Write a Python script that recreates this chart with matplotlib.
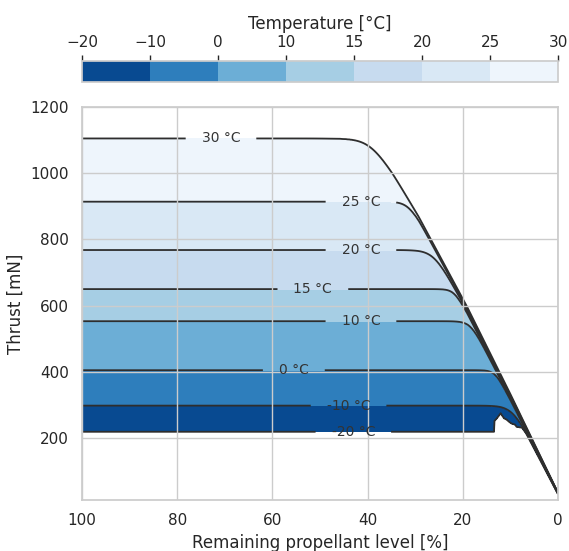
import numpy as np
import matplotlib
matplotlib.use("Agg")
from matplotlib import pyplot as plt
import seaborn as sns

sns.set_theme(style="whitegrid")

# temperature levels and the plateau thrust of each iso-temperature line
temps = [-20, -10, 0, 10, 15, 20, 25, 30]
plateau_thrust = [219, 298, 405, 553, 650, 768, 914, 1105]
bend_width = [10, 35, 20, 25, 20, 35, 25, 40]
diag_scale = [0.92, 0.935, 0.95, 0.96, 0.97, 0.98, 0.99, 1.0]

# outer limit line (thrust at low propellant level)
limit_level = [0, 10, 19.1, 29.3, 34.7, 40, 100]
limit_thrust = [34, 332, 596, 869, 1000, 1120, 2500]

# the -20 °C line has a ragged end
m20_level = [6.2, 6.9, 7.6, 8.7, 9.05, 9.75, 10.25, 10.8, 11.35, 12.05, 12.9, 13.35, 13.45, 100]
m20_thrust = [204, 219, 232, 234, 241, 244, 249, 256, 260, 275, 259, 252, 219, 219]

label_pos = [(70.8, 1105), (41.4, 914), (41.4, 768), (51.5, 650),
             (41.4, 553), (55.5, 405), (44, 298), (43, 219)]

level = np.linspace(0, 100, 2001)
thrust = np.arange(0, 1201, 1.0)

L = np.interp(level, limit_level, limit_thrust)
curves = []
for i, T in enumerate(temps):
    P = plateau_thrust[i]
    D = diag_scale[i] * L
    k = bend_width[i]
    m = np.minimum(P, D)
    F = m - k * np.log1p(np.exp(-np.abs(P - D) / k))
    if T == -20:
        F = np.minimum(np.interp(level, m20_level, m20_thrust), D)
    curves.append(F)
curves = np.array(curves)
for i in range(1, len(temps)):
    curves[i] = np.maximum(curves[i], curves[i - 1] + 0.5)

t_ext = np.concatenate([[temps[0] - 200], temps, [temps[-1] + 200]])
grid = np.empty((len(thrust), len(level)))
for j in range(len(level)):
    f = curves[:, j]
    f_ext = np.concatenate([[f[0] - 2000], f, [f[-1] + 2000]])
    grid[:, j] = np.interp(thrust, f_ext, t_ext)

fig = plt.figure(figsize=(5.69, 5.51), dpi=100)
ax = fig.add_axes([0.1441, 0.0926, 0.8366, 0.7132])
cax = fig.add_axes([0.1441, 0.8512, 0.8366, 0.0381])

cf = ax.contourf(level, thrust, grid, levels=temps, cmap="Blues_r")
cs = ax.contour(level, thrust, grid, levels=temps, colors="0.18", linewidths=1.3,
                negative_linestyles="solid")
ax.clabel(cs, fmt="%d °C", fontsize=10, colors="0.2", inline=True,
          inline_spacing=16, manual=label_pos)

ax.set_xlim(100, 0)
ax.set_ylim(13, 1200)
ax.set_axisbelow(False)
ax.set_xlabel("Remaining propellant level [%]")
ax.set_ylabel("Thrust [mN]")

cb = fig.colorbar(cf, cax=cax, orientation="horizontal", ticklocation="top")
cb.set_label("Temperature [°C]")
cax.tick_params(length=4.5, width=1)

fig.savefig("out.png", dpi=100)
